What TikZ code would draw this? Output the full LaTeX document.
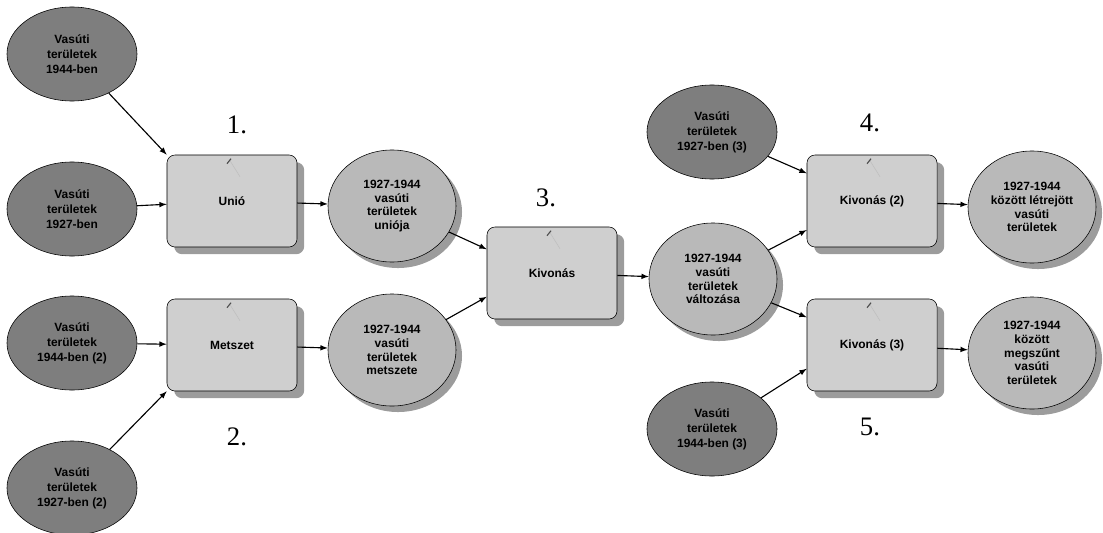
\documentclass[tikz,border=0pt]{standalone}
\usepackage{fontspec}
\setmainfont{Liberation Serif}
\setsansfont{Liberation Sans}
\usepackage{tikz}
\usetikzlibrary{arrows,positioning,shapes,shadows,calc}

\definecolor{indark}{HTML}{7E7E7E}
\definecolor{outlight}{HTML}{B9B9B9}
\definecolor{toolfill}{HTML}{CFCFCF}
\definecolor{shadowgray}{HTML}{9C9C9C}

\tikzset{
    indata/.style={ellipse, draw=black, thin, fill=indark, minimum width=3.25cm,
        minimum height=2.35cm, inner sep=0pt, align=center,
        font=\sffamily\bfseries\fontsize{8.5}{10.6}\selectfont},
    outdata/.style={ellipse, draw=black, thin, fill=outlight, minimum width=3.2cm,
        minimum height=2.8cm, inner sep=0pt, align=center,
        drop shadow={shadow xshift=0.15cm, shadow yshift=-0.15cm, fill=shadowgray, opacity=1},
        font=\sffamily\bfseries\fontsize{8.5}{9.8}\selectfont},
    tool/.style={rectangle, rounded corners=0.2cm, draw=black, thin, fill=toolfill,
        minimum width=3.25cm, minimum height=2.3cm, align=center,
        drop shadow={shadow xshift=0.18cm, shadow yshift=-0.18cm, fill=shadowgray, opacity=1},
        font=\sffamily\bfseries\fontsize{8.5}{10}\selectfont},
    steplabel/.style={font=\fontsize{19}{21}\selectfont},
    flow/.style={->, >=latex, thick, black},
}

\begin{document}
\begin{tikzpicture}[x=0.025cm, y=-0.025cm]
    \useasboundingbox (0,0) rectangle (1103,532);

    % inputs, left side
    \node[indata] (v44) at (72,54) {Vasúti\\területek\\1944-ben};
    \node[indata] (v27) at (72,209) {Vasúti\\területek\\1927-ben};
    \node[indata] (v44b) at (72,343) {Vasúti\\területek\\1944-ben (2)};
    \node[indata] (v27b) at (72,488) {Vasúti\\területek\\1927-ben (2)};

    % tools 1. and 2.
    \node[tool] (unio) at (232,201) {Unió};
    \node[tool] (metszet) at (232,345) {Metszet};
    \node[steplabel] (n1) at (237,125) {1.};
    \node[steplabel] (n2) at (237,437) {2.};

    % intermediate results
    \node[outdata] (unioja) at (392,206) {1927-1944\\vasúti\\területek\\uniója};
    \node[outdata] (metszete) at (392,350) {1927-1944\\vasúti\\területek\\metszete};

    % tool 3.
    \node[tool] (kiv) at (552,273) {Kivonás};
    \node[steplabel] (n3) at (546,198) {3.};
    \node[outdata] (valtozas) at (713,279) {1927-1944\\vasúti\\területek\\változása};

    % inputs, right side
    \node[indata] (v27c) at (712,132) {Vasúti\\területek\\1927-ben (3)};
    \node[indata] (v44c) at (712,429) {Vasúti\\területek\\1944-ben (3)};

    % tools 4. and 5.
    \node[tool] (kiv2) at (872,201) {Kivonás (2)};
    \node[tool] (kiv3) at (872,345) {Kivonás (3)};
    \node[steplabel] (n4) at (870,123) {4.};
    \node[steplabel] (n5) at (870,427) {5.};

    % final results
    \node[outdata] (letrejott) at (1032,207) {1927-1944\\között létrejött\\vasúti\\területek};
    \node[outdata] (megszunt) at (1032,353) {1927-1944\\között\\megszűnt\\vasúti\\területek};

    % pins on the tools
    \foreach \b in {unio,metszet,kiv,kiv2,kiv3} {
        \draw[black!25, thin] ([shift={(-2,6)}]\b.north) -- ([shift={(8,22)}]\b.north);
        \draw[black!70, thick] ([shift={(-5,9)}]\b.north) -- ([shift={(-1,4)}]\b.north);
    }

    % connectors
    \draw[flow] (v44) -- (unio.north west);
    \draw[flow] (v27) -- (unio);
    \draw[flow] (v44b) -- (metszet);
    \draw[flow] (v27b) -- (metszet.south west);
    \draw[flow] (unio) -- (unioja);
    \draw[flow] (metszet) -- (metszete);
    \draw[flow] (unioja) -- (kiv.160);
    \draw[flow] (metszete) -- (kiv.200);
    \draw[flow] (kiv) -- (valtozas);
    \draw[flow] (valtozas) -- (kiv2.204);
    \draw[flow] (valtozas) -- (kiv3.157);
    \draw[flow] (v27c) -- (kiv2.157);
    \draw[flow] (v44c) -- (kiv3.200);
    \draw[flow] (kiv2) -- (letrejott);
    \draw[flow] (kiv3) -- (megszunt);
\end{tikzpicture}
\end{document}
